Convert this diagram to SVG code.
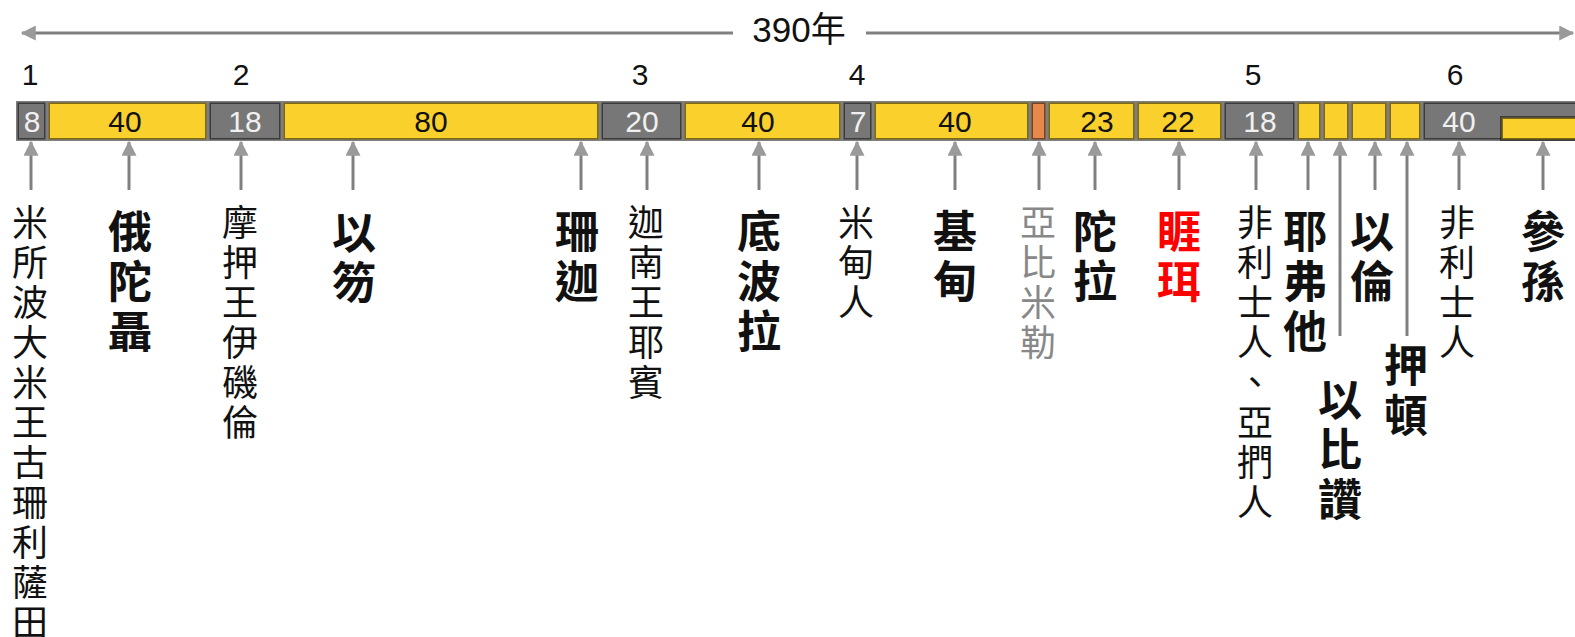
<svg xmlns="http://www.w3.org/2000/svg" width="1575" height="637" viewBox="0 0 1575 637">
<style>
  .bg{fill:#ffffff}
  .seg{stroke:#000;stroke-opacity:0.5;stroke-width:3}
  .y{fill:#FAD02C}
  .g{fill:#777777}
  .o{fill:#E8894A}
  .lat{font-family:"Liberation Sans",Arial,sans-serif;font-size:30px;text-anchor:middle}
  .dark{fill:#111111}
  .light{fill:#f0f0f0}
  .reg{font-family:"Noto Sans CJK TC","Noto Sans CJK SC",sans-serif;font-size:36px;letter-spacing:4px;writing-mode:vertical-rl;text-orientation:upright;fill:#111}
  .bold{font-family:"Noto Sans CJK TC","Noto Sans CJK SC",sans-serif;font-size:44px;letter-spacing:6px;font-weight:bold;writing-mode:vertical-rl;text-orientation:upright;fill:#111}
  .grey{fill:#888888}
  .red{fill:#ff0000}
  .conn{stroke:#808080;stroke-width:3;fill:none}
  .top{font-family:"Liberation Sans","Noto Sans CJK TC",sans-serif;font-size:35px;text-anchor:middle;fill:#111}
</style>
<defs>
  <marker id="ah" viewBox="0 0 12 12" refX="11" refY="6" markerWidth="5" markerHeight="5" markerUnits="strokeWidth" orient="auto">
    <path d="M0,0 L12,6 L0,12 Z" fill="#9a9a9a"/>
  </marker>
  <marker id="ah2" viewBox="0 0 12 12" refX="11" refY="6" markerWidth="5" markerHeight="5" markerUnits="strokeWidth" orient="auto-start-reverse">
    <path d="M0,0 L12,6 L0,12 Z" fill="#9a9a9a"/>
  </marker>
</defs>
<rect class="bg" x="0" y="0" width="1575" height="637"/>

<g id="span">
  <line class="conn" x1="22" y1="33" x2="733" y2="33" marker-start="url(#ah2)"/>
  <line class="conn" x1="866" y1="33" x2="1573" y2="33" marker-end="url(#ah)"/>
  <text class="top" x="799" y="42">390年</text>
</g>

<g id="periods" class="lat dark">
  <text x="30" y="85">1</text>
  <text x="241" y="85">2</text>
  <text x="640" y="85">3</text>
  <text x="857" y="85">4</text>
  <text x="1253" y="85">5</text>
  <text x="1455" y="85">6</text>
</g>

<g id="bar">
  <rect class="seg g" x="17.5" y="102.5" width="28" height="37"/>
  <rect class="seg y" x="48.5" y="102.5" width="158" height="37"/>
  <rect class="seg g" x="209.5" y="102.5" width="71" height="37"/>
  <rect class="seg y" x="283.5" y="102.5" width="315" height="37"/>
  <rect class="seg g" x="601.5" y="102.5" width="80" height="37"/>
  <rect class="seg y" x="684.5" y="102.5" width="156" height="37"/>
  <rect class="seg g" x="843.5" y="102.5" width="28" height="37"/>
  <rect class="seg y" x="874.5" y="102.5" width="154" height="37"/>
  <rect class="seg o" x="1031.5" y="102.5" width="14" height="37"/>
  <rect class="seg y" x="1048.5" y="102.5" width="86" height="37"/>
  <rect class="seg y" x="1137.5" y="102.5" width="84" height="37"/>
  <rect class="seg g" x="1224.5" y="102.5" width="70" height="37"/>
  <rect class="seg y" x="1297.5" y="102.5" width="23" height="37"/>
  <rect class="seg y" x="1323.5" y="102.5" width="25" height="37"/>
  <rect class="seg y" x="1351.5" y="102.5" width="35" height="37"/>
  <rect class="seg y" x="1389.5" y="102.5" width="31" height="37"/>
  <rect class="seg g" x="1423.5" y="102.5" width="160" height="37"/>
  <rect class="seg y" x="1501.5" y="117.5" width="80" height="22"/>
  <g class="lat">
    <text class="light" x="32" y="132">8</text>
    <text class="dark" x="125" y="132">40</text>
    <text class="light" x="245" y="132">18</text>
    <text class="dark" x="431" y="132">80</text>
    <text class="light" x="642" y="132">20</text>
    <text class="dark" x="758" y="132">40</text>
    <text class="light" x="858" y="132">7</text>
    <text class="dark" x="955" y="132">40</text>
    <text class="dark" x="1097" y="132">23</text>
    <text class="dark" x="1178" y="132">22</text>
    <text class="light" x="1260" y="132">18</text>
    <text class="light" x="1459" y="132">40</text>
  </g>
</g>

<g id="connectors">
  <line class="conn" x1="31" y1="190" x2="31" y2="142" marker-end="url(#ah)"/>
  <line class="conn" x1="129" y1="190" x2="129" y2="142" marker-end="url(#ah)"/>
  <line class="conn" x1="241" y1="190" x2="241" y2="142" marker-end="url(#ah)"/>
  <line class="conn" x1="353" y1="190" x2="353" y2="142" marker-end="url(#ah)"/>
  <line class="conn" x1="581" y1="190" x2="581" y2="142" marker-end="url(#ah)"/>
  <line class="conn" x1="647" y1="190" x2="647" y2="142" marker-end="url(#ah)"/>
  <line class="conn" x1="759" y1="190" x2="759" y2="142" marker-end="url(#ah)"/>
  <line class="conn" x1="857" y1="190" x2="857" y2="142" marker-end="url(#ah)"/>
  <line class="conn" x1="955" y1="190" x2="955" y2="142" marker-end="url(#ah)"/>
  <line class="conn" x1="1039" y1="190" x2="1039" y2="142" marker-end="url(#ah)"/>
  <line class="conn" x1="1095" y1="190" x2="1095" y2="142" marker-end="url(#ah)"/>
  <line class="conn" x1="1179" y1="190" x2="1179" y2="142" marker-end="url(#ah)"/>
  <line class="conn" x1="1256" y1="190" x2="1256" y2="142" marker-end="url(#ah)"/>
  <line class="conn" x1="1308" y1="190" x2="1308" y2="142" marker-end="url(#ah)"/>
  <line class="conn" x1="1340" y1="336" x2="1340" y2="142" marker-end="url(#ah)"/>
  <line class="conn" x1="1375" y1="190" x2="1375" y2="142" marker-end="url(#ah)"/>
  <line class="conn" x1="1407" y1="336" x2="1407" y2="142" marker-end="url(#ah)"/>
  <line class="conn" x1="1459" y1="190" x2="1459" y2="142" marker-end="url(#ah)"/>
  <line class="conn" x1="1543" y1="190" x2="1543" y2="142" marker-end="url(#ah)"/>
</g>

<g id="n-mesopotamia"><text class="reg" x="30" y="204">米所波大米王古珊利薩田</text></g>
<g id="n-othniel"><text class="bold" x="130" y="209">俄陀聶</text></g>
<g id="n-moab"><text class="reg" x="240" y="204">摩押王伊磯倫</text></g>
<g id="n-ehud"><text class="bold" x="354" y="210">以笏</text></g>
<g id="n-shamgar"><text class="bold" x="577" y="209">珊迦</text></g>
<g id="n-jabin"><text class="reg" x="646" y="204">迦南王耶賓</text></g>
<g id="n-deborah"><text class="bold" x="759" y="209">底波拉</text></g>
<g id="n-midian"><text class="reg" x="856" y="204">米甸人</text></g>
<g id="n-gideon"><text class="bold" x="955" y="209">基甸</text></g>
<g id="n-abimelech"><text class="reg grey" x="1038" y="204">亞比米勒</text></g>
<g id="n-tola"><text class="bold" x="1095" y="209">陀拉</text></g>
<g id="n-jair"><text class="bold red" x="1179" y="209">睚珥</text></g>
<g id="n-philistines-ammon"><text class="reg" x="1255" y="204">非利士人、亞捫人</text></g>
<g id="n-jephthah"><text class="bold" x="1305" y="209">耶弗他</text></g>
<g id="n-ibzan"><text class="bold" x="1340" y="377">以比讚</text></g>
<g id="n-elon"><text class="bold" x="1372" y="209">以倫</text></g>
<g id="n-abdon"><text class="bold" x="1406" y="343">押頓</text></g>
<g id="n-philistines"><text class="reg" x="1457" y="204">非利士人</text></g>
<g id="n-samson"><text class="bold" x="1543" y="209">參孫</text></g>
</svg>
